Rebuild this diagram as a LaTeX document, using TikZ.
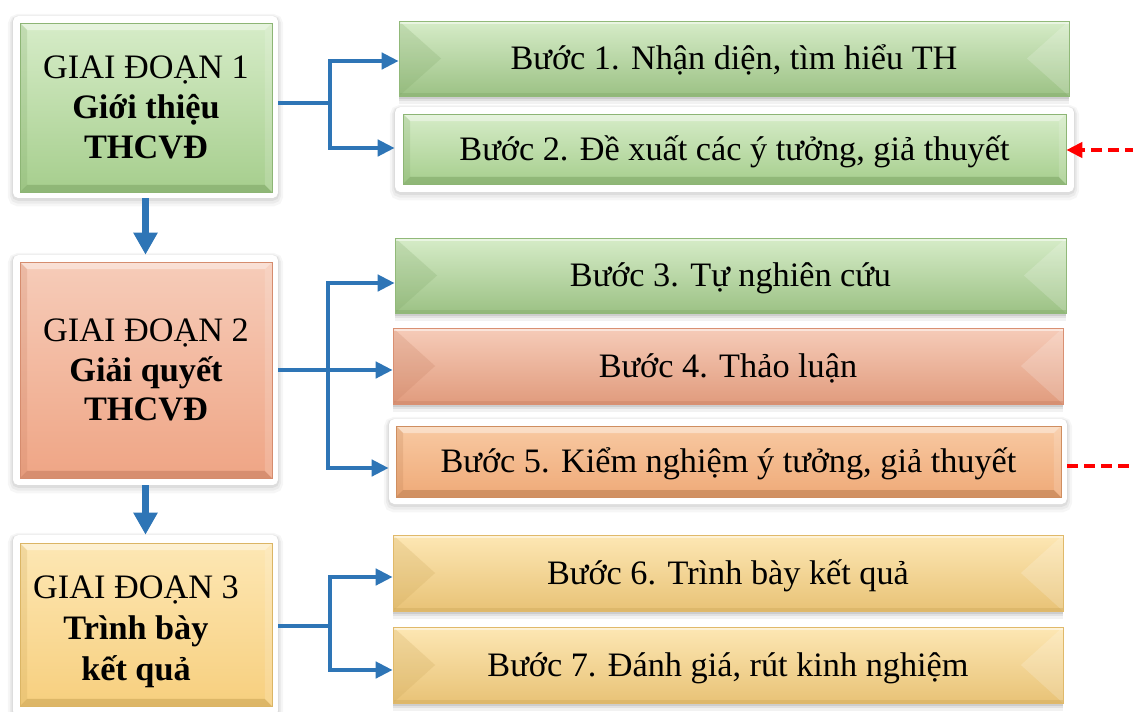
\documentclass[tikz,border=0pt]{standalone}
\usepackage{fontspec}
\setmainfont{Liberation Serif}
\usetikzlibrary{arrows.meta,calc}

\definecolor{flowblue}{HTML}{2E75B6}
\definecolor{greenlt}{HTML}{D6ECC8}
\definecolor{greenbs}{HTML}{A6CE8D}
\definecolor{greendk}{HTML}{7DA565}
\definecolor{salmonlt}{HTML}{F6CCB9}
\definecolor{salmonbs}{HTML}{EFA585}
\definecolor{salmondk}{HTML}{C47C5E}
\definecolor{orangelt}{HTML}{F8C9A2}
\definecolor{orangebs}{HTML}{EFAA78}
\definecolor{orangedk}{HTML}{B97C50}
\definecolor{yellowlt}{HTML}{FDE7B4}
\definecolor{yellowbs}{HTML}{F7CF7E}
\definecolor{yellowdk}{HTML}{C9A355}

\tikzset{
  every node/.style={font=\fontsize{19.5}{22.7}\selectfont, inner sep=0pt},
  dropshade/.style={
    preaction={fill=black, opacity=0.05, transform canvas={yshift=-4.5pt}},
    preaction={fill=black, opacity=0.07, transform canvas={yshift=-3pt}},
    preaction={fill=black, opacity=0.09, transform canvas={yshift=-1.6pt}}},
  % white mat with a soft grey halo
  framebox/.style={fill=white, rounded corners=3pt,
    preaction={draw=black, opacity=0.035, line width=6pt, transform canvas={yshift=-1.8pt}},
    preaction={draw=black, opacity=0.045, line width=3.6pt, transform canvas={yshift=-1.4pt}},
    preaction={draw=black, opacity=0.06, line width=1.6pt, transform canvas={yshift=-0.8pt}}},
  steptext/.style={text height=0.5cm, text depth=0.05cm},
  % thin inset bevel: light top edge, dark bottom edge
  stagebox/.style n args={3}{draw=#3!60!#2, line width=0.4pt, align=center,
    path picture={
      \coordinate (nw) at (path picture bounding box.north west);
      \coordinate (ne) at (path picture bounding box.north east);
      \coordinate (sw) at (path picture bounding box.south west);
      \coordinate (se) at (path picture bounding box.south east);
      \shade[top color=#1, bottom color=#2] (nw) rectangle (se);
      \fill[white, opacity=0.40] (nw) -- (ne) -- ($(ne)+(-7,7)$) -- ($(nw)+(7,7)$) -- cycle;
      \fill[#3, opacity=0.55] (sw) -- (se) -- ($(se)+(-7,-7)$) -- ($(sw)+(7,-7)$) -- cycle;
      \fill[#3, opacity=0.22] (nw) -- ($(nw)+(7,7)$) -- ($(sw)+(7,-7)$) -- (sw) -- cycle;
      \fill[white, opacity=0.15] (ne) -- ($(ne)+(-7,7)$) -- ($(se)+(-7,-7)$) -- (se) -- cycle;
    }},
  % angled bevel: triangular end facets meeting a central ridge
  stepbox/.style n args={3}{draw=#3!50!#2, line width=0.4pt, dropshade, steptext,
    path picture={
      \coordinate (nw) at (path picture bounding box.north west);
      \coordinate (ne) at (path picture bounding box.north east);
      \coordinate (sw) at (path picture bounding box.south west);
      \coordinate (se) at (path picture bounding box.south east);
      \coordinate (w) at (path picture bounding box.west);
      \coordinate (e) at (path picture bounding box.east);
      \shade[top color=#1, middle color=#2, bottom color=#2!94!black] (nw) rectangle (se);
      \fill[#3, opacity=0.22] (nw) -- ($(w)+(42,0)$) -- (sw) -- cycle;
      \fill[white, opacity=0.18] (ne) -- ($(e)+(-42,0)$) -- (se) -- cycle;
      \fill[white, opacity=0.5] (nw) rectangle ($(ne)+(0,3)$);
      \fill[#3, opacity=0.35] ($(sw)+(0,-3)$) rectangle (se);
    }},
  conn/.style={draw=flowblue, line width=2.4pt},
  connarrow/.style={conn, -{Triangle[length=0.34cm, width=0.32cm]}},
  downarrow/.style={draw=flowblue, line width=4.5pt, -{Triangle[length=0.44cm, width=0.46cm]}},
  redlink/.style={draw=red, line width=2.3pt, dash pattern=on 0.22cm off 0.12cm},
}

\begin{document}
\begin{tikzpicture}[x=0.02cm, y=-0.02cm]
\useasboundingbox (0,0) rectangle (1133,711);

% ---- stage column ----
\node[framebox, minimum width=5.30cm, minimum height=3.64cm] (f1) at (145.5,107) {};
\node[stagebox={greenlt}{greenbs}{greendk}, minimum width=5.04cm, minimum height=3.38cm]
  (g1) at (146,107.5) {GIAI ĐOẠN 1\\\textbf{Giới thiệu}\\\textbf{THCVĐ}};

\node[framebox, minimum width=5.30cm, minimum height=4.60cm] (f2) at (145.5,370) {};
\node[stagebox={salmonlt}{salmonbs}{salmondk}, minimum width=5.04cm, minimum height=4.32cm]
  (g2) at (146,370) {GIAI ĐOẠN 2\\\textbf{Giải quyết}\\\textbf{THCVĐ}};

\node[framebox, minimum width=5.30cm, minimum height=3.62cm] (f3) at (145.5,625.5) {};
\node[stagebox={yellowlt}{yellowbs}{yellowdk}, minimum width=5.04cm, minimum height=3.26cm,
      font=\fontsize{19.5}{23.4}\selectfont]
  (g3) at (146,624.5) {\raisebox{-0.14cm}[\height][\depth]{\begin{tabular}{@{}c@{}}GIAI ĐOẠN 3\\\textbf{Trình bày}\\\textbf{kết quả}\end{tabular}}\hspace{0.4cm}};

% ---- step column ----
\node[stepbox={greenlt}{greenbs}{greendk}, minimum width=13.40cm, minimum height=1.50cm]
  (s1) at (734,58.5) {Bước 1. Nhận diện, tìm hiểu TH};

\node[framebox, minimum width=13.58cm, minimum height=1.70cm] (f2s) at (734.5,149.5) {};
\node[stagebox={greenlt}{greenbs}{greendk}, steptext, minimum width=13.26cm, minimum height=1.40cm]
  (s2) at (734.5,149) {Bước 2. Đề xuất các ý tưởng, giả thuyết};

\node[stepbox={greenlt}{greenbs}{greendk}, minimum width=13.42cm, minimum height=1.50cm]
  (s3) at (730.5,275.5) {Bước 3. Tự nghiên cứu};

\node[stepbox={salmonlt}{salmonbs}{salmondk}, minimum width=13.40cm, minimum height=1.52cm]
  (s4) at (728,366) {Bước 4. Thảo luận};

\node[framebox, minimum width=13.56cm, minimum height=1.70cm] (f5s) at (728,461.5) {};
\node[stagebox={orangelt}{orangebs}{orangedk}, steptext, minimum width=13.30cm, minimum height=1.42cm]
  (s5) at (728.5,461.5) {Bước 5. Kiểm nghiệm ý tưởng, giả thuyết};

\node[stepbox={yellowlt}{yellowbs}{yellowdk}, minimum width=13.40cm, minimum height=1.52cm]
  (s6) at (728,573) {Bước 6. Trình bày kết quả};

\node[stepbox={yellowlt}{yellowbs}{yellowdk}, minimum width=13.40cm, minimum height=1.52cm]
  (s7) at (728,665) {Bước 7. Đánh giá, rút kinh nghiệm};

% ---- stage to stage ----
\draw[downarrow] (f1.south) -- (f2.north);
\draw[downarrow] (f2.south) -- (f3.north);

% ---- stage 1 branches ----
\coordinate (j1) at (330,103);
\coordinate (j1a) at (330,61);
\coordinate (j1b) at (330,148);
\draw[conn] (j1 -| f1.east) -- (j1);
\draw[connarrow] (j1) -- (j1a) -- (j1a -| s1.west);
\draw[connarrow] (j1) -- (j1b) -- (j1b -| f2s.west);

% ---- stage 2 branches ----
\coordinate (j2) at (328,370);
\coordinate (j2a) at (328,283);
\coordinate (j2c) at (328,468);
\draw[connarrow] (j2 -| f2.east) -- (j2 -| s4.west);
\draw[connarrow] (j2) -- (j2a) -- (j2a -| s3.west);
\draw[connarrow] (j2) -- (j2c) -- (j2c -| f5s.west);

% ---- stage 3 branches ----
\coordinate (j3) at (330,626);
\coordinate (j3a) at (330,577);
\coordinate (j3b) at (330,670);
\draw[conn] (j3 -| f3.east) -- (j3);
\draw[connarrow] (j3) -- (j3a) -- (j3a -| s6.west);
\draw[connarrow] (j3) -- (j3b) -- (j3b -| s7.west);

% ---- dashed feedback links ----
\coordinate (r1) at (1136,150);
\draw[redlink, -{Triangle[length=0.32cm, width=0.30cm]}] (r1) -- (r1 -| s2.east);
\coordinate (r2) at (1136,466);
\draw[redlink] (r2 -| f5s.east) -- (r2);
\end{tikzpicture}
\end{document}
